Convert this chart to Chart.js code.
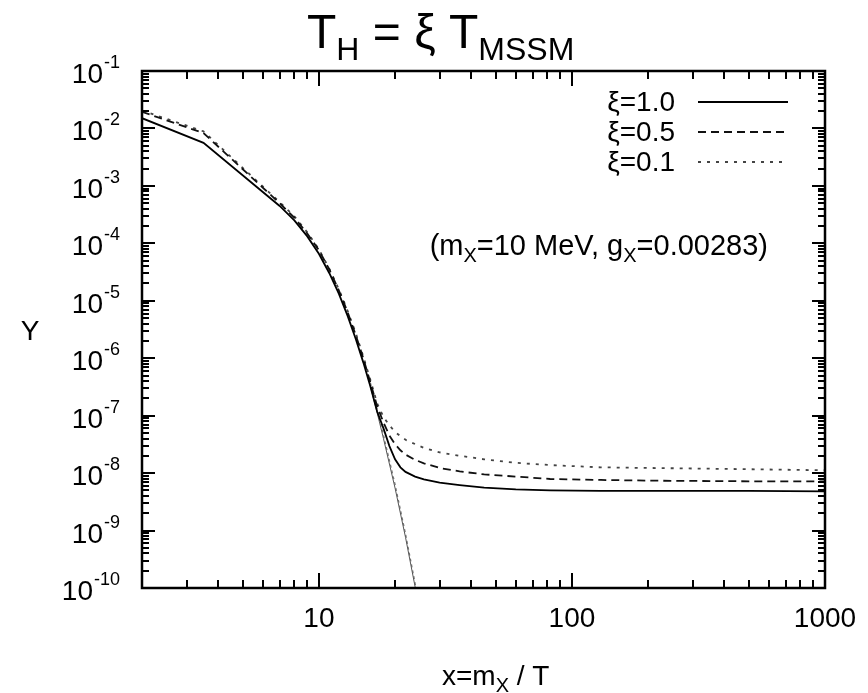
<!DOCTYPE html>
<html>
<head>
<meta charset="utf-8">
<script src="https://cdn.jsdelivr.net/npm/chart.js@4.4.1/dist/chart.umd.min.js"></script>
<style>
  html, body { margin: 0; padding: 0; background: #fff; }
</style>
</head>
<body>
<canvas id="yieldChart" width="868" height="693"></canvas>
<script>
// x = m_X / T sample points
const xVals = [2, 3.5, 7, 8, 9, 10, 11, 12, 13, 14, 15, 16, 17, 18, 19, 20, 21, 22, 24, 26,
               30, 36, 45, 60, 82, 130, 200, 500, 1000];

// relic abundance Y for each temperature ratio
const yXi10 = [1.51e-2, 5.62e-3, 4.47e-4, 2.51e-4, 1.32e-4, 6.6e-5, 3.02e-5, 1.32e-5, 5.4e-6, 2.14e-6,
               8.3e-7, 3.16e-7, 1.17e-7, 6.0e-8, 2.95e-8, 1.74e-8, 1.26e-8, 1.05e-8, 8.7e-9, 7.8e-9,
               6.8e-9, 6.2e-9, 5.6e-9, 5.2e-9, 5.0e-9, 4.9e-9, 4.9e-9, 4.9e-9, 4.8e-9];
const yXi05 = [1.95e-2, 8.3e-3, 5.0e-4, 2.8e-4, 1.48e-4, 7.6e-5, 3.5e-5, 1.51e-5, 6.3e-6, 2.5e-6,
               9.8e-7, 3.7e-7, 1.45e-7, 7.6e-8, 4.5e-8, 3.2e-8, 2.5e-8, 2.1e-8, 1.7e-8, 1.48e-8,
               1.23e-8, 1.07e-8, 9.5e-9, 8.7e-9, 7.9e-9, 7.6e-9, 7.4e-9, 7.2e-9, 7.2e-9];
const yXi01 = [2.05e-2, 8.9e-3, 5.2e-4, 2.95e-4, 1.55e-4, 7.9e-5, 3.6e-5, 1.58e-5, 6.6e-6, 2.7e-6,
               1.05e-6, 4.1e-7, 1.62e-7, 9.5e-8, 6.8e-8, 5.2e-8, 4.4e-8, 3.8e-8, 3.2e-8, 2.75e-8,
               2.3e-8, 2.0e-8, 1.74e-8, 1.51e-8, 1.38e-8, 1.26e-8, 1.23e-8, 1.17e-8, 1.12e-8];

// equilibrium abundance past freeze-out
const xEq = [16, 17, 18, 20, 22, 24, 25];
const yEqA = [3.16e-7, 1.12e-7, 4.0e-8, 5.5e-9, 7.6e-10, 1.05e-10, 3.8e-11];
const yEqB = [3.7e-7, 1.26e-7, 4.6e-8, 6.4e-9, 8.8e-10, 1.22e-10, 4.6e-11];

const xTickLabels = [10, 100, 1000];
const yExponents = [-1, -2, -3, -4, -5, -6, -7, -8, -9, -10];
const legendLabels = ['ξ=1.0', 'ξ=0.5', 'ξ=0.1'];

const FONT = '"Liberation Sans", Arial, sans-serif';

function pts(xs, ys) {
  return xs.map((x, i) => ({ x: x, y: ys[i] }));
}

// draw a run of text pieces (normal / sub / superscript) from x
function drawRuns(ctx, runs, x, y, align) {
  let total = 0;
  runs.forEach(r => {
    ctx.font = r.size + 'px ' + FONT;
    r.w = ctx.measureText(r.t).width;
    total += r.w;
  });
  let cx = align === 'right' ? x - total : align === 'center' ? x - total / 2 : x;
  ctx.textAlign = 'left';
  ctx.textBaseline = 'alphabetic';
  runs.forEach(r => {
    ctx.font = r.size + 'px ' + FONT;
    ctx.fillText(r.t, cx, y + (r.dy || 0));
    cx += r.w;
  });
}

const gnuFrame = {
  id: 'gnuFrame',
  afterDatasetsDraw(chart) {
    const { ctx, chartArea: a, scales } = chart;
    const xs = scales.x, ys = scales.y;
    ctx.save();
    ctx.fillStyle = '#000';

    // inward tick marks on all four sides
    for (let d = 1; d <= 100; d *= 10) {
      for (let m = 1; m <= 9; m++) {
        const v = d * m;
        if (v < 2 || v > 1000) continue;
        const px = Math.round(xs.getPixelForValue(v));
        const len = m === 1 ? 15 : 8;
        ctx.fillRect(px - 1, a.bottom - len, 2, len);
        ctx.fillRect(px - 1, a.top, 2, len);
      }
    }
    for (let e = -10; e <= -1; e++) {
      for (let m = 1; m <= 9; m++) {
        const v = m * Math.pow(10, e);
        if (v > 0.1 * 1.0001) continue;
        const py = Math.round(ys.getPixelForValue(v));
        const len = m === 1 ? 13 : 7;
        ctx.fillRect(a.left, py - 1, len, 2);
        ctx.fillRect(a.right - len, py - 1, len, 2);
      }
    }

    ctx.lineWidth = 2.5;
    ctx.strokeStyle = '#000';
    ctx.strokeRect(a.left, a.top, a.right - a.left, a.bottom - a.top);

    // tick labels
    xTickLabels.forEach(v => {
      drawRuns(ctx, [{ t: String(v), size: 28 }], xs.getPixelForValue(v), a.bottom + 39, 'center');
    });
    yExponents.forEach(e => {
      const py = ys.getPixelForValue(Math.pow(10, e));
      ctx.font = '18px ' + FONT;
      const ew = ctx.measureText(String(e)).width;
      drawRuns(ctx, [{ t: String(e), size: 18 }], a.left - 22, py - 3, 'right');
      drawRuns(ctx, [{ t: '10', size: 28 }], a.left - 23 - ew, py + 12, 'right');
    });

    // axis titles and plot title
    drawRuns(ctx, [{ t: 'Y', size: 28 }], 30, 340, 'center');
    drawRuns(ctx, [
      { t: 'x=m', size: 28 }, { t: 'X', size: 20, dy: 7 }, { t: ' / T', size: 28 }
    ], 442, 685, 'left');
    drawRuns(ctx, [
      { t: 'T', size: 48 }, { t: 'H', size: 32, dy: 12 }, { t: ' = ξ T', size: 48 }, { t: 'MSSM', size: 32, dy: 12 }
    ], 307, 48, 'left');

    // parameter note
    drawRuns(ctx, [
      { t: '(m', size: 29 }, { t: 'X', size: 20, dy: 7 }, { t: '=10 MeV, g', size: 29 },
      { t: 'X', size: 20, dy: 7 }, { t: '=0.00283)', size: 29 }
    ], 768, 255, 'right');

    // key: label on the left, line sample on the right
    chart.data.datasets.slice(0, 3).forEach((ds, i) => {
      const ly = 102 + i * 30;
      drawRuns(ctx, [{ t: legendLabels[i], size: 28 }], 675, ly + 9, 'right');
      ctx.beginPath();
      ctx.strokeStyle = ds.borderColor;
      ctx.lineWidth = ds.borderWidth;
      ctx.setLineDash(ds.borderDash || []);
      ctx.moveTo(698, ly);
      ctx.lineTo(788, ly);
      ctx.stroke();
    });
    ctx.restore();
  }
};

const ctx = document.getElementById('yieldChart');

new Chart(ctx, {
  type: 'line',
  data: {
    datasets: [
      { label: legendLabels[0], data: pts(xVals, yXi10), borderColor: '#000', borderWidth: 1.8, borderDash: [] },
      { label: legendLabels[1], data: pts(xVals, yXi05), borderColor: '#111', borderWidth: 1.8, borderDash: [8, 5] },
      { label: legendLabels[2], data: pts(xVals, yXi01), borderColor: '#444', borderWidth: 1.8, borderDash: [3, 6] },
      { label: 'eq', data: pts(xEq, yEqA), borderColor: '#555', borderWidth: 1, borderDash: [] },
      { label: 'eq', data: pts(xEq, yEqB), borderColor: '#777', borderWidth: 1.2, borderDash: [3, 3] }
    ]
  },
  options: {
    responsive: false,
    animation: false,
    devicePixelRatio: 1,
    layout: { padding: { left: 142, top: 71, right: 43, bottom: 105 } },
    elements: { point: { radius: 0 }, line: { tension: 0, fill: false } },
    scales: {
      x: {
        type: 'logarithmic', min: 2, max: 1000,
        ticks: { display: false },
        grid: { display: false, drawTicks: false },
        border: { display: false }
      },
      y: {
        type: 'logarithmic', min: 1e-10, max: 1e-1,
        ticks: { display: false },
        grid: { display: false, drawTicks: false },
        border: { display: false }
      }
    },
    plugins: {
      legend: { display: false },
      tooltip: { enabled: false },
      title: { display: false }
    }
  },
  plugins: [gnuFrame]
});
</script>
</body>
</html>
